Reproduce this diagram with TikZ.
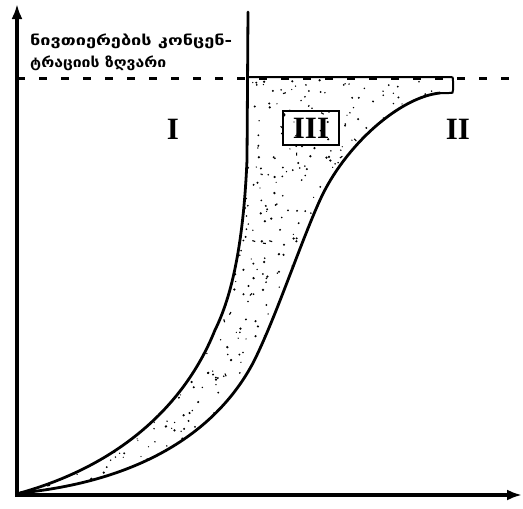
\documentclass[tikz,border=0pt]{standalone}
\usepackage{fontspec}
\usetikzlibrary{arrows.meta}
\newfontfamily\geofont{DejaVu Sans}
\newfontfamily\numfont{Liberation Serif}
\begin{document}
\begin{tikzpicture}[x=1pt,y=-1pt,
  axis/.style={line width=3.6pt,-{Latex[length=15pt,width=11pt]}},
  curve/.style={line width=2.8pt,line join=round,line cap=round},
  limitline/.style={line width=3pt,dash pattern=on 8pt off 14pt},
  roman/.style={font=\numfont\bfseries\fontsize{31}{31}\selectfont,inner sep=0pt},
  caption/.style={font=\geofont\bfseries\fontsize{14}{14}\selectfont,inner sep=0pt,anchor=base west}]
\useasboundingbox (0,0) rectangle (523,509);
\def\regionpath{(20,493) .. controls (120,465) and (185,405) .. (215,330)
  .. controls (235,290) and (244,230) .. (247,160) -- (248,77) -- (449,77)
  .. controls (453,77) and (453,77) .. (453,81) -- (453,90)
  .. controls (453,93) and (453,93) .. (449,93) -- (440,93)
  .. controls (400,97) and (345,145) .. (320,200)
  .. controls (300,244) and (275,320) .. (253,363)
  .. controls (220,425) and (150,480) .. (20,493) -- cycle}
% stipple of region III
\begin{scope}
  \clip \regionpath;
  \pgfmathsetseed{11}
  \foreach \i in {1,...,1300}{
    \pgfmathsetmacro\rx{20+rnd*435}
    \pgfmathsetmacro\ry{75+rnd*420}
    \pgfmathsetmacro\rr{0.6+rnd*0.7}
    \fill (\rx,\ry) circle[radius=\rr pt];
  }
  \foreach \i in {1,...,80}{
    \pgfmathsetmacro\rx{20+rnd*435}
    \pgfmathsetmacro\ry{75+rnd*420}
    \pgfmathsetmacro\ra{rnd*180}
    \draw[line width=1.1pt] (\rx,\ry) -- ++(\ra:3pt);
  }
\end{scope}
% boundary curves
\draw[curve] (20,493) .. controls (120,465) and (185,405) .. (215,330)
  .. controls (235,290) and (244,230) .. (247,160) -- (248,12);
\draw[line width=2pt] (248,77) -- (449,77)
  .. controls (453,77) and (453,77) .. (453,81) -- (453,90)
  .. controls (453,93) and (453,93) .. (449,93) -- (440,93);
\draw[curve] (440,93)
  .. controls (400,97) and (345,145) .. (320,200)
  .. controls (300,244) and (275,320) .. (253,363)
  .. controls (220,425) and (150,480) .. (20,493);
% limit line
\coordinate (dl) at (17,78);
\coordinate (dr) at (523,78);
\draw[limitline] (dl) -- (dr);
% axes
\coordinate (ytip) at (17,4);
\coordinate (xtip) at (522,495);
\draw[axis] (17,497) -- (ytip);
\draw[axis] (15,495) -- (xtip);
% labels
\node[roman] (lI) at (173,129) {I};
\node[roman] (lII) at (458,129) {II};
\node[roman,draw,line width=1.8pt,minimum width=56pt,minimum height=34pt] (lIII) at (311,128) {III};
\node[caption] (cap1) at (30,45) {\resizebox{202pt}{\height}{ნივთიერების კონცენ-}};
\node[caption] (cap2) at (30,67) {\resizebox{136pt}{\height}{ტრაციის ზღვარი}};
\end{tikzpicture}
\end{document}
